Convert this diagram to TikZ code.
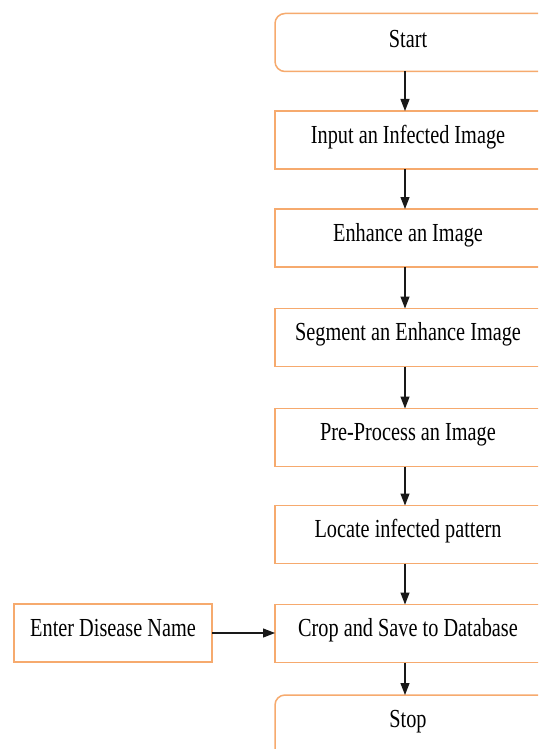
\documentclass[tikz,border=0pt]{standalone}
\usepackage{fontspec}
\setmainfont{Liberation Serif}[FakeStretch=0.78]
\usetikzlibrary{arrows.meta}
\definecolor{boxorange}{RGB}{246,170,110}
\definecolor{arrowgray}{RGB}{25,25,25}
\tikzset{
  basebox/.style={draw=boxorange, line width=1.5pt, fill=white, rectangle,
    minimum height=58pt, inner sep=0pt, outer sep=0pt,
    text height=32pt, text depth=26pt, font=\fontsize{26}{30}\selectfont},
  procbox/.style={basebox, minimum width=286pt, execute at begin node={\hspace*{-20pt}}},
  termbox/.style={procbox, rounded corners=10pt},
  sidebox/.style={basebox, minimum width=198pt},
  flow/.style={draw=arrowgray, line width=1.2pt, -{Triangle[length=12pt,width=9pt]}}
}
\begin{document}
\begin{tikzpicture}[x=1pt,y=-1pt]
\clip (0,0) rectangle (538,749);
\fill[white] (0,0) rectangle (538,749);
\node[termbox, text height=34pt, text depth=24pt] (start) at (418,42.5) {Start};
\node[procbox] (input) at (418,140) {Input an Infected Image};
\node[procbox] (enh) at (418,238) {Enhance an Image};
\node[procbox] (seg) at (418,337.5) {Segment an Enhance Image};
\node[procbox] (pre) at (418,437.5) {Pre-Process an Image};
\node[procbox] (loc) at (418,534.5) {Locate infected pattern};
\node[procbox] (crop) at (418,633.5) {Crop and Save to Database};
\node[termbox, minimum height=64pt, text depth=32pt] (stop) at (418,727) {Stop};
\node[sidebox] (dis) at (113,633) {Enter Disease Name};
\foreach \a/\b in {start/input,input/enh,enh/seg,seg/pre,pre/loc,loc/crop,crop/stop}
  \draw[flow] ([xshift=-13pt]\a.south) -- ([xshift=-13pt]\b.north);
\draw[flow] (dis.east) -- (dis.east -| crop.west);
\end{tikzpicture}
\end{document}
